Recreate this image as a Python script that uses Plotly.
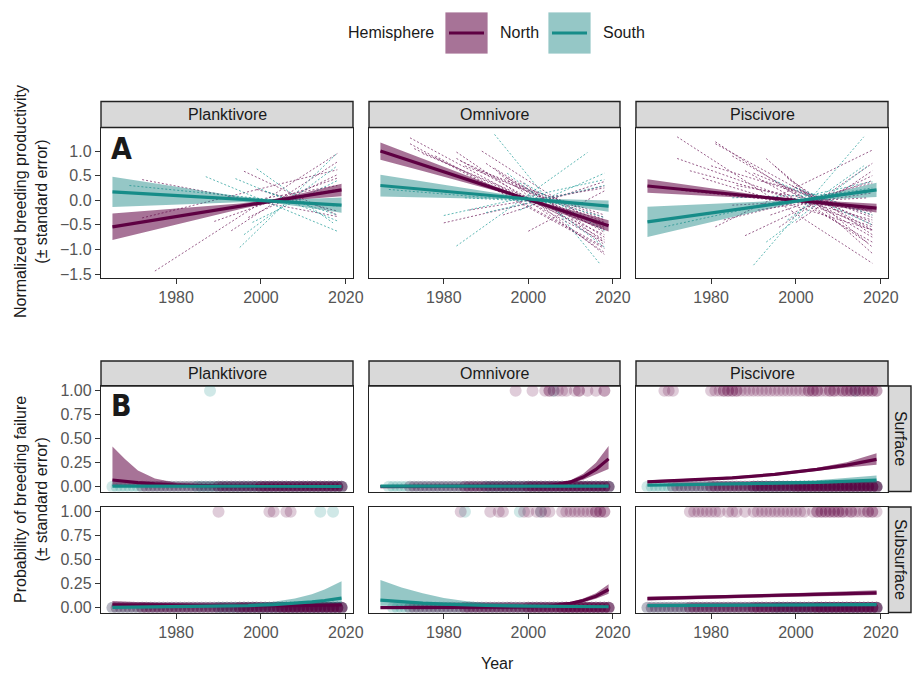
import plotly.graph_objects as go

W, H = 913, 674
FONT = "Liberation Sans, Arial, Helvetica, sans-serif"

# ------------------------------------------------------------------ data
diets = ["Planktivore", "Omnivore", "Piscivore"]
foraging = ["Surface", "Subsurface"]
hemispheres = ["North", "South"]

x_tick_vals = [1980, 2000, 2020]
prod_tick_vals = [1.0, 0.5, 0.0, -0.5, -1.0, -1.5]
prod_tick_text = ["1.0", "0.5", "0.0", "\u22120.5", "\u22121.0", "\u22121.5"]
fail_tick_vals = [0.0, 0.25, 0.5, 0.75, 1.0]
fail_tick_text = ["0.00", "0.25", "0.50", "0.75", "1.00"]

# Panel A: overall linear trends (fit, lower, upper) per diet and hemisphere
prod_years = [1965, 1975, 1985, 1995, 2002, 2010, 2019]
plank_N_fit = [-0.540, -0.401, -0.262, -0.123, -0.026, 0.085, 0.210]
plank_N_lo = [-0.810, -0.599, -0.389, -0.182, -0.056, 0.020, 0.083]
plank_N_hi = [-0.270, -0.203, -0.135, -0.064, 0.004, 0.150, 0.337]
plank_S_fit = [0.170, 0.120, 0.070, 0.020, -0.015, -0.055, -0.100]
plank_S_lo = [-0.136, -0.102, -0.069, -0.039, -0.046, -0.137, -0.255]
plank_S_hi = [0.476, 0.342, 0.209, 0.079, 0.016, 0.027, 0.055]
omni_N_fit = [1.000, 0.719, 0.437, 0.156, -0.042, -0.267, -0.520]
omni_N_lo = [0.823, 0.595, 0.364, 0.126, -0.075, -0.335, -0.634]
omni_N_hi = [1.177, 0.843, 0.510, 0.186, -0.009, -0.199, -0.406]
omni_S_fit = [0.300, 0.222, 0.144, 0.067, 0.012, -0.050, -0.120]
omni_S_lo = [0.079, 0.061, 0.043, 0.023, -0.014, -0.110, -0.233]
omni_S_hi = [0.521, 0.383, 0.245, 0.111, 0.038, 0.010, -0.007]
pisc_N_fit = [0.290, 0.207, 0.123, 0.040, -0.018, -0.085, -0.160]
pisc_N_lo = [0.154, 0.111, 0.066, 0.017, -0.044, -0.138, -0.248]
pisc_N_hi = [0.426, 0.303, 0.180, 0.063, 0.008, -0.032, -0.072]
pisc_S_fit = [-0.440, -0.320, -0.199, -0.079, 0.005, 0.102, 0.210]
pisc_S_lo = [-0.748, -0.546, -0.343, -0.144, -0.025, 0.029, 0.066]
pisc_S_hi = [-0.132, -0.094, -0.055, -0.014, 0.035, 0.175, 0.354]

# Panel A: per-colony trend segments (first year, last year, start value, end value)
plank_N_segs = [
    (1975, 2018, -1.44, 0.95), (1972, 2018, 0.42, -0.33), (1972, 2018, -0.36, 0.62),
    (1989, 2018, -0.43, 0.45), (1996, 2018, 0.59, -0.30), (1993, 2018, -0.62, 0.78),
    (1997, 2018, -0.35, 0.52), (2001, 2018, 0.04, 0.30), (1999, 2018, 0.22, -0.22),
    (1986, 2018, -0.25, 0.22),
]
plank_S_segs = [
    (1995, 2018, -0.96, 0.96), (1987, 2018, 0.48, -0.63), (1999, 2017, 0.64, -0.46),
    (1969, 2018, 0.30, -0.12), (1994, 2018, 0.44, -0.42), (1996, 2018, -0.70, 0.70),
    (1998, 2018, -0.45, 0.40), (2001, 2018, 0.18, -0.30),
]
omni_N_segs = [
    (1972, 2018, 1.27, -0.85), (1972, 2018, 1.15, -0.98), (1973, 2018, 1.05, -0.70),
    (1983, 2018, 0.98, -1.06), (1983, 2018, 0.85, -0.80), (1984, 2018, 0.80, -0.55),
    (1989, 2018, 1.00, -0.59), (1990, 2018, 0.75, -0.90), (1980, 2018, -0.46, 0.29),
    (1985, 2018, 0.70, -0.45), (1992, 2018, 0.65, -0.75), (1993, 2018, 0.55, -1.10),
    (1995, 2018, 0.45, -0.65), (2000, 2018, -0.63, 0.19), (1997, 2018, 0.30, -0.40),
    (1975, 2018, 0.95, -0.60), (1978, 2018, 0.90, -0.95), (1988, 2018, 0.62, -0.35),
    (1998, 2018, 0.40, -0.85), (2001, 2018, 0.20, -0.30), (1986, 2018, -0.20, 0.25),
    (1994, 2018, -0.30, 0.38),
]
omni_S_segs = [
    (1992, 2017, 1.34, -1.30), (1983, 2014, -0.93, 0.97), (1980, 2018, -0.31, 0.42),
    (1967, 2005, 0.22, -0.05), (1990, 2018, -0.25, 0.30), (1995, 2018, 0.55, -0.95),
    (1998, 2018, -0.20, 0.55), (1999, 2018, 0.35, -0.62), (2000, 2018, 0.10, -0.35),
    (1985, 2018, 0.05, -0.10),
]
pisc_N_segs = [
    (1972, 2018, 1.29, -1.28), (1981, 2017, 1.19, -0.87), (1972, 2018, 0.85, -0.54),
    (1981, 2018, -0.54, 1.02), (1993, 2018, 0.85, -1.08), (1981, 2018, 1.15, -0.60),
    (1985, 2018, 0.90, -0.75), (1988, 2018, 0.60, -0.85), (1990, 2018, 0.55, -0.45),
    (1975, 2018, 0.60, -0.40), (1978, 2018, 0.45, -0.60), (1988, 2018, -0.72, 0.50),
    (1995, 2018, 0.70, -0.95), (1996, 2018, -0.55, 0.75), (1998, 2018, 0.45, -0.70),
    (2000, 2018, -0.45, 0.60), (1983, 2018, -0.40, 0.35), (1992, 2018, 0.40, -0.25),
    (1994, 2018, -0.30, 0.40), (1999, 2018, 0.30, -0.50), (1986, 2018, 0.30, -0.20),
    (1997, 2018, 0.25, -0.62), (1973, 2018, 0.20, -0.20), (2001, 2018, 0.20, -0.35),
    (1991, 2018, -0.20, 0.15), (1980, 2018, 0.70, -0.30), (1985, 2017, -0.10, 0.05),
]
pisc_S_segs = [
    (1990, 2016, -1.32, 1.29), (1993, 2017, -0.85, 0.70), (1969, 2018, -0.54, 0.38),
    (1995, 2018, 0.40, -0.50), (1998, 2016, -0.40, 0.70), (1988, 2018, -0.15, 0.25),
    (2000, 2018, 0.25, -0.30), (1985, 2017, 0.05, 0.15),
]

# Panel B: fitted probability of breeding failure (years, fit, lower, upper)
pk_sf_N_years = [1965, 1968, 1971, 1975, 1980, 1990, 2000, 2010, 2019]
pk_sf_N_fit = [0.070, 0.055, 0.042, 0.029, 0.018, 0.008, 0.004, 0.002, 0.001]
pk_sf_N_lo = [0.008, 0.008, 0.008, 0.007, 0.006, 0.003, 0.001, 0.0005, 0.0002]
pk_sf_N_hi = [0.420, 0.285, 0.170, 0.085, 0.040, 0.016, 0.008, 0.005, 0.004]
pk_sf_S_years = [1965, 1990, 2019]
pk_sf_S_fit = [0.006, 0.005, 0.004]
pk_sf_S_lo = [0.002, 0.003, 0.001]
pk_sf_S_hi = [0.016, 0.009, 0.012]
pk_ss_N_years = [1965, 1980, 1995, 2005, 2012, 2019]
pk_ss_N_fit = [0.030, 0.024, 0.021, 0.021, 0.024, 0.030]
pk_ss_N_lo = [0.012, 0.014, 0.014, 0.015, 0.016, 0.017]
pk_ss_N_hi = [0.070, 0.040, 0.031, 0.030, 0.036, 0.050]
pk_ss_S_years = [1965, 1980, 1990, 1997, 2003, 2008, 2012, 2015, 2019]
pk_ss_S_fit = [0.004, 0.010, 0.016, 0.022, 0.032, 0.045, 0.060, 0.075, 0.100]
pk_ss_S_lo = [0.001, 0.004, 0.008, 0.012, 0.016, 0.020, 0.025, 0.029, 0.035]
pk_ss_S_hi = [0.016, 0.022, 0.030, 0.040, 0.062, 0.095, 0.140, 0.190, 0.275]

om_sf_N_years = [1965, 1985, 1995, 2000, 2004, 2007, 2010, 2013, 2016, 2019]
om_sf_N_fit = [0.000, 0.001, 0.002, 0.004, 0.010, 0.025, 0.050, 0.100, 0.180, 0.290]
om_sf_N_lo = [0.000, 0.000, 0.001, 0.002, 0.006, 0.017, 0.036, 0.072, 0.128, 0.185]
om_sf_N_hi = [0.001, 0.002, 0.004, 0.008, 0.016, 0.035, 0.068, 0.135, 0.250, 0.425]
om_sf_S_years = [1965, 1990, 2019]
om_sf_S_fit = [0.006, 0.005, 0.005]
om_sf_S_lo = [0.002, 0.003, 0.002]
om_sf_S_hi = [0.015, 0.009, 0.012]
om_ss_N_years = [1965, 1985, 1995, 2000, 2005, 2010, 2013, 2016, 2019]
om_ss_N_fit = [0.000, 0.001, 0.004, 0.008, 0.018, 0.045, 0.075, 0.120, 0.190]
om_ss_N_lo = [0.000, 0.000, 0.002, 0.005, 0.012, 0.034, 0.058, 0.094, 0.145]
om_ss_N_hi = [0.001, 0.003, 0.008, 0.013, 0.025, 0.058, 0.095, 0.150, 0.245]
om_ss_S_years = [1965, 1970, 1975, 1980, 1985, 1990, 2000, 2010, 2019]
om_ss_S_fit = [0.080, 0.062, 0.048, 0.037, 0.029, 0.023, 0.016, 0.012, 0.010]
om_ss_S_lo = [0.020, 0.018, 0.016, 0.014, 0.012, 0.010, 0.008, 0.006, 0.004]
om_ss_S_hi = [0.290, 0.210, 0.150, 0.100, 0.070, 0.050, 0.030, 0.021, 0.020]

pi_sf_N_years = [1965, 1975, 1985, 1995, 2005, 2012, 2019]
pi_sf_N_fit = [0.050, 0.068, 0.093, 0.128, 0.180, 0.225, 0.285]
pi_sf_N_lo = [0.037, 0.056, 0.081, 0.115, 0.163, 0.200, 0.228]
pi_sf_N_hi = [0.066, 0.082, 0.106, 0.142, 0.198, 0.255, 0.350]
pi_sf_S_years = [1965, 1990, 2005, 2019]
pi_sf_S_fit = [0.015, 0.030, 0.045, 0.070]
pi_sf_S_lo = [0.008, 0.021, 0.031, 0.040]
pi_sf_S_hi = [0.026, 0.043, 0.066, 0.118]
pi_ss_N_years = [1965, 1990, 2019]
pi_ss_N_fit = [0.095, 0.120, 0.155]
pi_ss_N_lo = [0.074, 0.104, 0.132]
pi_ss_N_hi = [0.118, 0.138, 0.182]
pi_ss_S_years = [1965, 1990, 2019]
pi_ss_S_fit = [0.022, 0.027, 0.033]
pi_ss_S_lo = [0.015, 0.022, 0.024]
pi_ss_S_hi = [0.031, 0.034, 0.046]

# Panel B: observed colony-years (0 = no failure, 1 = failure)
survey_years = [1965, 1966, 1967, 1968, 1969, 1970, 1971, 1972, 1973, 1974, 1975,
                1976, 1977, 1978, 1979, 1980, 1981, 1982, 1983, 1984, 1985, 1986,
                1987, 1988, 1989, 1990, 1991, 1992, 1993, 1994, 1995, 1996, 1997,
                1998, 1999, 2000, 2001, 2002, 2003, 2004, 2005, 2006, 2007, 2008,
                2009, 2010, 2011, 2012, 2013, 2014, 2015, 2016, 2017, 2018, 2019]
# monitoring spans (first year, last year) of colonies recorded without failure
pk_sf_zero_N = [(1972, 2019), (1990, 2019), (2000, 2019)]
pk_sf_zero_S = [(1965, 2019), (1985, 2019)]
pk_ss_zero_N = [(1965, 2019), (1972, 2019), (1995, 2019), (2005, 2019)]
pk_ss_zero_S = [(1965, 2019), (1990, 2019)]
om_sf_zero_N = [(1972, 2019), (1985, 2019), (2000, 2019)]
om_sf_zero_S = [(1967, 2019), (1990, 2019)]
om_ss_zero_N = [(1972, 2019), (1985, 2019), (2000, 2019), (2008, 2019)]
om_ss_zero_S = [(1968, 2019)]
pi_sf_zero_N = [(1971, 2019), (1980, 2019), (1990, 2019), (2000, 2019)]
pi_sf_zero_S = [(1965, 2019), (1990, 2019)]
pi_ss_zero_N = [(1965, 2019), (1975, 2019), (1990, 2019), (2005, 2019)]
pi_ss_zero_S = [(1965, 2019), (1995, 2019)]
# failure years
pk_sf_one_N = []
pk_sf_one_S = [1988]
pk_ss_one_N = [1990, 2002, 2003, 2006, 2007]
pk_ss_one_S = [2014, 2017]
om_sf_one_N = [1997, 2001, 2004, 2005, 2005, 2006, 2007, 2008, 2009, 2011, 2012,
               2012, 2014, 2016, 2018, 2018]
om_sf_one_S = [2006]
om_ss_one_N = [1984, 1991, 1993, 1994, 1999, 2000, 2002, 2003, 2004, 2005, 2008,
               2009, 2010, 2011, 2012, 2013, 2014, 2015, 2016, 2016, 2017, 2017, 2018, 2018]
om_ss_one_S = [1985, 1998, 2003]
pi_sf_one_N = [1969, 1970, 1971, 1980, 1981, 1982, 1983, 1983, 1984, 1984, 1985, 1985,
               1986, 1986, 1987, 1988, 1989, 1990, 1991, 1992, 1993, 1994, 1995, 1996,
               1997, 1998, 1999, 2000, 2001, 2002, 2003, 2003, 2004, 2004, 2005, 2005,
               2006, 2007, 2008, 2008, 2009, 2009, 2010, 2011, 2011, 2012, 2012, 2013,
               2013, 2014, 2014, 2015, 2015, 2016, 2016, 2017, 2017, 2018, 2018, 2019, 2019]
pi_sf_one_S = [2014]
pi_ss_one_N = [1975, 1976, 1977, 1978, 1979, 1980, 1981, 1982, 1984, 1985, 1986, 1988,
               1990, 1991, 1992, 1993, 1994, 1995, 1996, 1997, 1998, 1999, 2000, 2001,
               2002, 2004, 2005, 2005, 2006, 2006, 2007, 2007, 2008, 2008, 2009, 2009,
               2010, 2010, 2011, 2011, 2012, 2013, 2013, 2014, 2015, 2016, 2017, 2017,
               2018, 2018, 2019]
pi_ss_one_S = []

# ------------------------------------------------------------------ styles
N_LINE, S_LINE = "#5e0042", "#168c88"
N_FILL, S_FILL = "rgba(94,0,66,0.55)", "rgba(20,130,128,0.45)"
N_DASH, S_DASH = "rgba(112,30,92,0.85)", "rgba(30,155,150,0.85)"
N_PT, S_PT = "rgba(94,0,66,0.2)", "rgba(22,140,136,0.2)"
line_col = {"North": N_LINE, "South": S_LINE}
fill_col = {"North": N_FILL, "South": S_FILL}
dash_col = {"North": N_DASH, "South": S_DASH}
pt_col = {"North": N_PT, "South": S_PT}

col_px = [(101, 353), (369, 620), (636, 888)]
rowA_px = (127.5, 277.7)
rowS_px = (386.0, 491.5)
rowU_px = (507.0, 612.5)
X_RANGE = [1962.3, 2021.7]


def px_x(v):
    return v / W


def px_y(v):
    return 1 - v / H


# ------------------------------------------------------------------ tables built from the arrays
A_fits = {
    ("Planktivore", "North"): (plank_N_fit, plank_N_lo, plank_N_hi),
    ("Planktivore", "South"): (plank_S_fit, plank_S_lo, plank_S_hi),
    ("Omnivore", "North"): (omni_N_fit, omni_N_lo, omni_N_hi),
    ("Omnivore", "South"): (omni_S_fit, omni_S_lo, omni_S_hi),
    ("Piscivore", "North"): (pisc_N_fit, pisc_N_lo, pisc_N_hi),
    ("Piscivore", "South"): (pisc_S_fit, pisc_S_lo, pisc_S_hi),
}
A_segs = {
    ("Planktivore", "North"): plank_N_segs, ("Planktivore", "South"): plank_S_segs,
    ("Omnivore", "North"): omni_N_segs, ("Omnivore", "South"): omni_S_segs,
    ("Piscivore", "North"): pisc_N_segs, ("Piscivore", "South"): pisc_S_segs,
}
B_fits = {
    ("Planktivore", "Surface", "North"): (pk_sf_N_years, pk_sf_N_fit, pk_sf_N_lo, pk_sf_N_hi),
    ("Planktivore", "Surface", "South"): (pk_sf_S_years, pk_sf_S_fit, pk_sf_S_lo, pk_sf_S_hi),
    ("Planktivore", "Subsurface", "North"): (pk_ss_N_years, pk_ss_N_fit, pk_ss_N_lo, pk_ss_N_hi),
    ("Planktivore", "Subsurface", "South"): (pk_ss_S_years, pk_ss_S_fit, pk_ss_S_lo, pk_ss_S_hi),
    ("Omnivore", "Surface", "North"): (om_sf_N_years, om_sf_N_fit, om_sf_N_lo, om_sf_N_hi),
    ("Omnivore", "Surface", "South"): (om_sf_S_years, om_sf_S_fit, om_sf_S_lo, om_sf_S_hi),
    ("Omnivore", "Subsurface", "North"): (om_ss_N_years, om_ss_N_fit, om_ss_N_lo, om_ss_N_hi),
    ("Omnivore", "Subsurface", "South"): (om_ss_S_years, om_ss_S_fit, om_ss_S_lo, om_ss_S_hi),
    ("Piscivore", "Surface", "North"): (pi_sf_N_years, pi_sf_N_fit, pi_sf_N_lo, pi_sf_N_hi),
    ("Piscivore", "Surface", "South"): (pi_sf_S_years, pi_sf_S_fit, pi_sf_S_lo, pi_sf_S_hi),
    ("Piscivore", "Subsurface", "North"): (pi_ss_N_years, pi_ss_N_fit, pi_ss_N_lo, pi_ss_N_hi),
    ("Piscivore", "Subsurface", "South"): (pi_ss_S_years, pi_ss_S_fit, pi_ss_S_lo, pi_ss_S_hi),
}
B_zero = {
    ("Planktivore", "Surface", "North"): pk_sf_zero_N, ("Planktivore", "Surface", "South"): pk_sf_zero_S,
    ("Planktivore", "Subsurface", "North"): pk_ss_zero_N, ("Planktivore", "Subsurface", "South"): pk_ss_zero_S,
    ("Omnivore", "Surface", "North"): om_sf_zero_N, ("Omnivore", "Surface", "South"): om_sf_zero_S,
    ("Omnivore", "Subsurface", "North"): om_ss_zero_N, ("Omnivore", "Subsurface", "South"): om_ss_zero_S,
    ("Piscivore", "Surface", "North"): pi_sf_zero_N, ("Piscivore", "Surface", "South"): pi_sf_zero_S,
    ("Piscivore", "Subsurface", "North"): pi_ss_zero_N, ("Piscivore", "Subsurface", "South"): pi_ss_zero_S,
}
B_one = {
    ("Planktivore", "Surface", "North"): pk_sf_one_N, ("Planktivore", "Surface", "South"): pk_sf_one_S,
    ("Planktivore", "Subsurface", "North"): pk_ss_one_N, ("Planktivore", "Subsurface", "South"): pk_ss_one_S,
    ("Omnivore", "Surface", "North"): om_sf_one_N, ("Omnivore", "Surface", "South"): om_sf_one_S,
    ("Omnivore", "Subsurface", "North"): om_ss_one_N, ("Omnivore", "Subsurface", "South"): om_ss_one_S,
    ("Piscivore", "Surface", "North"): pi_sf_one_N, ("Piscivore", "Surface", "South"): pi_sf_one_S,
    ("Piscivore", "Subsurface", "North"): pi_ss_one_N, ("Piscivore", "Subsurface", "South"): pi_ss_one_S,
}

fig = go.Figure()


def refs(i):
    return ("x" if i == 1 else f"x{i}"), ("y" if i == 1 else f"y{i}")


def ribbon(years, lo, hi, hemi, i):
    xr, yr = refs(i)
    fig.add_trace(go.Scatter(
        x=list(years) + list(years)[::-1], y=list(hi) + list(lo)[::-1],
        fill="toself", fillcolor=fill_col[hemi], line=dict(width=0),
        mode="lines", hoverinfo="skip", showlegend=False, xaxis=xr, yaxis=yr))


def fit_line(years, fit, hemi, i):
    xr, yr = refs(i)
    fig.add_trace(go.Scatter(
        x=years, y=fit, mode="lines", line=dict(color=line_col[hemi], width=3.2),
        hoverinfo="skip", showlegend=False, xaxis=xr, yaxis=yr))


# ---- Panel A
for c, diet in enumerate(diets):
    i = c + 1
    xr, yr = refs(i)
    for hemi in hemispheres:
        xs, ys = [], []
        for (x0, x1, v0, v1) in A_segs[(diet, hemi)]:
            xs += [x0, x1, None]
            ys += [v0, v1, None]
        fig.add_trace(go.Scatter(
            x=xs, y=ys, mode="lines",
            line=dict(color=dash_col[hemi], width=0.85, dash="2px,2px"),
            hoverinfo="skip", showlegend=False, xaxis=xr, yaxis=yr))
    for hemi in hemispheres:
        fit, lo, hi = A_fits[(diet, hemi)]
        ribbon(prod_years, lo, hi, hemi, i)
    for hemi in hemispheres:
        fit, lo, hi = A_fits[(diet, hemi)]
        fit_line(prod_years, fit, hemi, i)

# ---- Panel B
for r, forage in enumerate(foraging):
    for c, diet in enumerate(diets):
        i = 4 + 3 * r + c
        xr, yr = refs(i)
        for hemi in ["South", "North"]:
            key = (diet, forage, hemi)
            zx = [y for (a, b) in B_zero[key] for y in survey_years if a <= y <= b]
            ox = list(B_one[key])
            fig.add_trace(go.Scatter(
                x=zx + ox, y=[0] * len(zx) + [1] * len(ox), mode="markers",
                marker=dict(size=12, color=pt_col[hemi], line=dict(width=0)),
                hoverinfo="skip", showlegend=False, xaxis=xr, yaxis=yr))
        for hemi in hemispheres:
            yrs, fit, lo, hi = B_fits[(diet, forage, hemi)]
            ribbon(yrs, lo, hi, hemi, i)
        for hemi in hemispheres:
            yrs, fit, lo, hi = B_fits[(diet, forage, hemi)]
            fit_line(yrs, fit, hemi, i)

# ------------------------------------------------------------------ axes
tickfont = dict(family=FONT, size=16, color="#555555")
layout = {}
rows = [(rowA_px, "A"), (rowS_px, "S"), (rowU_px, "U")]
for r, (rpx, kind) in enumerate(rows):
    for c in range(3):
        i = 1 + 3 * r + c
        xname = "xaxis" if i == 1 else f"xaxis{i}"
        yname = "yaxis" if i == 1 else f"yaxis{i}"
        xr, yr = refs(i)
        show_x = kind in ("A", "U")
        layout[xname] = dict(
            domain=[px_x(col_px[c][0]), px_x(col_px[c][1])], range=X_RANGE, anchor=yr,
            showline=True, mirror=True, linecolor="#222", linewidth=1.4,
            showgrid=False, zeroline=False, fixedrange=True, automargin=False,
            ticks="outside" if show_x else "", tickvals=x_tick_vals,
            showticklabels=show_x, ticklen=5, tickwidth=1.4, tickcolor="#333",
            tickfont=tickfont)
        if kind == "A":
            yrange, tv, tt = [-1.575, 1.48], prod_tick_vals, prod_tick_text
        else:
            yrange, tv, tt = [-0.05, 1.05], fail_tick_vals, fail_tick_text
        layout[yname] = dict(
            domain=[px_y(rpx[1]), px_y(rpx[0])], range=yrange, anchor=xr,
            showline=True, mirror=True, linecolor="#222", linewidth=1.4,
            showgrid=False, zeroline=False, fixedrange=True, automargin=False,
            ticks="outside" if c == 0 else "", tickvals=tv, ticktext=tt,
            showticklabels=(c == 0), ticklen=5, tickwidth=1.4, tickcolor="#333",
            tickfont=tickfont)

# ------------------------------------------------------------------ strips, labels, legend
shapes = []
annotations = []
strip_style = dict(type="rect", xref="paper", yref="paper", fillcolor="#d9d9d9",
                   line=dict(color="#222", width=1.4), layer="below")
for (top, bot) in [(101.5, 127.5), (361.0, 386.0)]:
    for c, diet in enumerate(diets):
        shapes.append(dict(strip_style, x0=px_x(col_px[c][0]), x1=px_x(col_px[c][1]),
                           y0=px_y(bot), y1=px_y(top)))
        annotations.append(dict(text=diet, x=px_x((col_px[c][0] + col_px[c][1]) / 2),
                                y=px_y((top + bot) / 2), xref="paper", yref="paper",
                                xanchor="center", yanchor="middle",
                                showarrow=False, font=dict(family=FONT, size=16, color="#1a1a1a")))
for rpx, forage in [(rowS_px, "Surface"), (rowU_px, "Subsurface")]:
    shapes.append(dict(strip_style, x0=px_x(888.5), x1=px_x(911), y0=px_y(rpx[1]), y1=px_y(rpx[0])))
    annotations.append(dict(text=forage, x=px_x(899.8), y=px_y((rpx[0] + rpx[1]) / 2),
                            xref="paper", yref="paper", showarrow=False, textangle=90,
                            xanchor="center", yanchor="middle",
                            font=dict(family=FONT, size=16, color="#1a1a1a")))

# panel letters
for letter, ypx in [("A", 148), ("B", 405)]:
    annotations.append(dict(text=f"<b>{letter}</b>", x=px_x(109), y=px_y(ypx), xref="paper",
                            yref="paper", xanchor="left", yanchor="middle", showarrow=False,
                            font=dict(family="DejaVu Sans Condensed, Liberation Sans Narrow, Liberation Sans",
                                      size=30, color="#1a1a1a")))

# axis titles
annotations.append(dict(text="Normalized breeding productivity<br>(\u00b1 standard error)",
                        x=px_x(31), y=px_y(202), xref="paper", yref="paper", showarrow=False,
                        xanchor="center", yanchor="middle",
                        textangle=-90, font=dict(family=FONT, size=16, color="#1a1a1a")))
annotations.append(dict(text="Probability of breeding failure<br>(\u00b1 standard error)",
                        x=px_x(31), y=px_y(500), xref="paper", yref="paper", showarrow=False,
                        xanchor="center", yanchor="middle",
                        textangle=-90, font=dict(family=FONT, size=16, color="#1a1a1a")))
annotations.append(dict(text="Year", x=px_x(497), y=px_y(663), xref="paper", yref="paper",
                        xanchor="center", yanchor="middle",
                        showarrow=False, font=dict(family=FONT, size=16, color="#1a1a1a")))

# legend
annotations.append(dict(text="Hemisphere", x=px_x(436), y=px_y(33), xref="paper", yref="paper",
                        xanchor="right", yanchor="middle", showarrow=False,
                        font=dict(family=FONT, size=16, color="#1a1a1a")))
for hemi, bx in [("North", 445), ("South", 548)]:
    shapes.append(dict(type="rect", xref="paper", yref="paper", x0=px_x(bx), x1=px_x(bx + 43),
                       y0=px_y(54), y1=px_y(12), fillcolor=fill_col[hemi],
                       line=dict(color="rgba(255,255,255,0.8)", width=1)))
    shapes.append(dict(type="line", xref="paper", yref="paper", x0=px_x(bx + 4), x1=px_x(bx + 39),
                       y0=px_y(33), y1=px_y(33), line=dict(color=line_col[hemi], width=3.2)))
    annotations.append(dict(text=hemi, x=px_x(bx + 53), y=px_y(33), xref="paper", yref="paper",
                            xanchor="left", yanchor="middle", showarrow=False,
                            font=dict(family=FONT, size=16, color="#1a1a1a")))

fig.update_layout(
    template="none",
    width=W, height=H, margin=dict(l=0, r=0, t=0, b=0, pad=0, autoexpand=False),
    paper_bgcolor="white", plot_bgcolor="white", showlegend=False,
    shapes=shapes, annotations=annotations, **layout)

fig.write_html(
    "out.html",
    config={"displayModeBar": False},
    post_script="document.body.style.margin='0';document.body.style.padding='0';"
                "document.body.style.overflow='hidden';")
